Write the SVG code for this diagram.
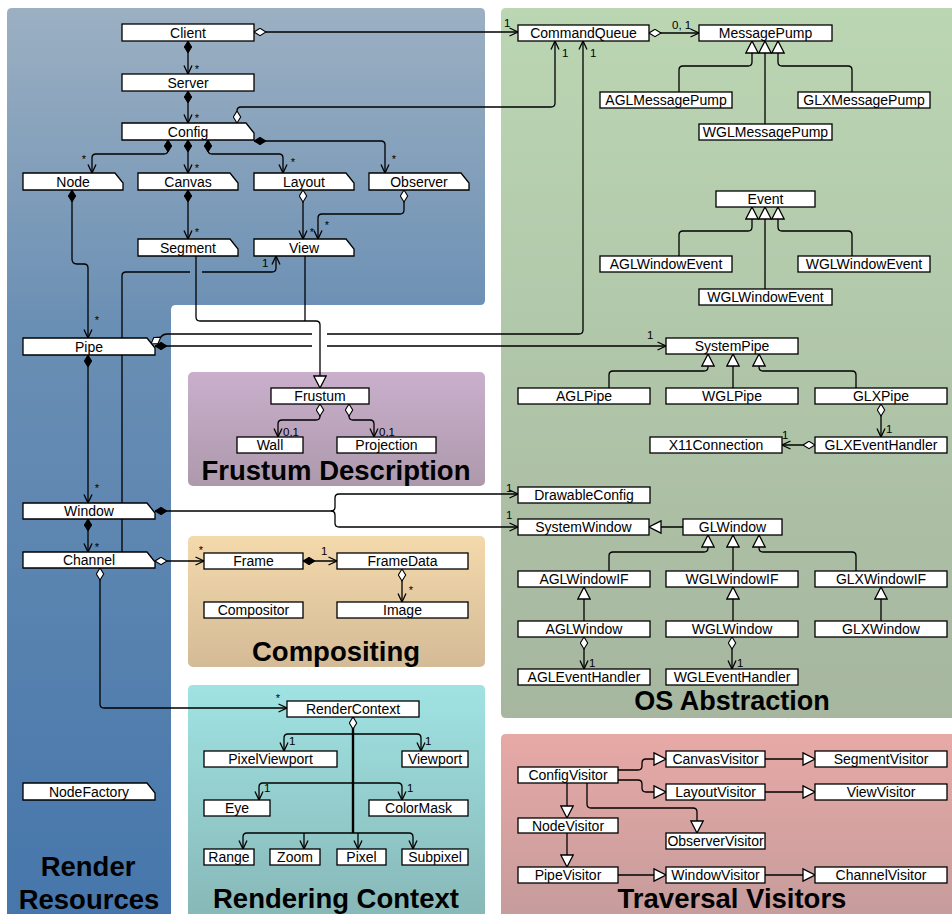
<svg xmlns="http://www.w3.org/2000/svg" width="952" height="914" viewBox="0 0 952 914">
<defs>
<linearGradient id="gBlue" gradientUnits="userSpaceOnUse" x1="0" y1="8" x2="0" y2="914"><stop offset="0" stop-color="#9cb0c2"/><stop offset="0.35" stop-color="#6a8fb4"/><stop offset="1" stop-color="#4676ab"/></linearGradient>
<linearGradient id="gGreen" gradientUnits="userSpaceOnUse" x1="0" y1="8" x2="0" y2="718"><stop offset="0" stop-color="#bbd6b3"/><stop offset="1" stop-color="#a6b69f"/></linearGradient>
<linearGradient id="gPurple" gradientUnits="userSpaceOnUse" x1="0" y1="372" x2="0" y2="486"><stop offset="0" stop-color="#c9afcc"/><stop offset="1" stop-color="#ad99ac"/></linearGradient>
<linearGradient id="gTan" gradientUnits="userSpaceOnUse" x1="0" y1="536" x2="0" y2="667"><stop offset="0" stop-color="#f4d9ab"/><stop offset="1" stop-color="#d4bb97"/></linearGradient>
<linearGradient id="gCyan" gradientUnits="userSpaceOnUse" x1="0" y1="685" x2="0" y2="914"><stop offset="0" stop-color="#a0e3e3"/><stop offset="1" stop-color="#88b8b8"/></linearGradient>
<linearGradient id="gPink" gradientUnits="userSpaceOnUse" x1="0" y1="734" x2="0" y2="914"><stop offset="0" stop-color="#e7a9a6"/><stop offset="1" stop-color="#c69c9c"/></linearGradient>
<marker id="arr" viewBox="0 0 10 10" refX="9.5" refY="5" markerWidth="10" markerHeight="10" markerUnits="userSpaceOnUse" orient="auto"><path d="M1,1 L9.5,5 L1,9" fill="none" stroke="#000" stroke-width="1.3"/></marker>
<marker id="fd" viewBox="0 0 13 9" refX="0.5" refY="4.5" markerWidth="13" markerHeight="9" markerUnits="userSpaceOnUse" orient="auto"><path d="M0.5,4.5 L6.5,0.8 L12.5,4.5 L6.5,8.2 Z" fill="#000" stroke="#000" stroke-width="1"/></marker>
<marker id="od" viewBox="0 0 13 9" refX="0.5" refY="4.5" markerWidth="13" markerHeight="9" markerUnits="userSpaceOnUse" orient="auto"><path d="M0.5,4.5 L6.5,0.8 L12.5,4.5 L6.5,8.2 Z" fill="#fff" stroke="#000" stroke-width="1.1"/></marker>
<marker id="tri" viewBox="0 0 14 14" refX="13" refY="7" markerWidth="14" markerHeight="14" markerUnits="userSpaceOnUse" orient="auto"><path d="M1,0.8 L13,7 L1,13.2 Z" fill="#fff" stroke="#000" stroke-width="1.3"/></marker>
<style>
.box{fill:#fff;stroke:#000;stroke-width:1.3}
.lbl{font-family:"Liberation Sans",Arial,sans-serif;font-size:14px;text-anchor:middle;fill:#000}
.c{fill:none;stroke:#000;stroke-width:1.3}
.cth{fill:none;stroke:#000;stroke-width:2.4}
.dF{marker-start:url(#fd)}
.dO{marker-start:url(#od)}
.aO{marker-end:url(#arr)}
.aT{marker-end:url(#tri)}
.m{font-family:"Liberation Sans",Arial,sans-serif;font-size:11.5px;fill:#000}
.s{font-family:"Liberation Sans",Arial,sans-serif;font-size:11px;fill:#000;text-anchor:middle}
.t{font-family:"Liberation Sans",Arial,sans-serif;font-weight:bold;font-size:27.5px;text-anchor:middle;fill:#000}
</style>
</defs>

<g id="panels">
<path d="M12,8 H480 Q485,8 485,13 V300 Q485,305 480,305 H176 Q171,305 171,310 V914 H7 V13 Q7,8 12,8 Z" fill="url(#gBlue)"/>
<path d="M506,8 H952 V718 H506 Q501,718 501,713 V13 Q501,8 506,8 Z" fill="url(#gGreen)"/>
<rect x="188" y="372" width="297" height="114" rx="5" fill="url(#gPurple)"/>
<rect x="188" y="536" width="297" height="131" rx="5" fill="url(#gTan)"/>
<path d="M193,685 H480 Q485,685 485,690 V914 H188 V690 Q188,685 193,685 Z" fill="url(#gCyan)"/>
<path d="M506,734 H952 V914 H501 V739 Q501,734 506,734 Z" fill="url(#gPink)"/>
<text class="t" x="88" y="876">Render</text>
<text class="t" x="89" y="909">Resources</text>
<text class="t" x="336" y="480">Frustum Description</text>
<text class="t" x="336" y="661">Compositing</text>
<text class="t" x="336" y="908">Rendering Context</text>
<text class="t" x="732" y="710" style="font-size:27px">OS Abstraction</text>
<text class="t" x="732" y="908">Traversal Visitors</text>
</g>

<g id="connectors">
<path class="c dF aO" d="M188,41 V74"/>
<path class="c dF aO" d="M188,91 V123"/>
<path class="c dF aO" d="M168,140 V150 Q168,154 164,154 H96 Q92,154 92,158 V173"/>
<path class="c dF aO" d="M188,140 V173"/>
<path class="c dF aO" d="M208,140 V150 Q208,154 212,154 H279 Q283,154 283,158 V173"/>
<path class="c dF aO" d="M254,141 H381 Q385,141 385,145 V173"/>
<path class="c dO aO" d="M237,123 V111 Q237,107 241,107 H551 Q555,107 555,103 V41"/>
<path class="c dO aO" d="M254,32 H518"/>
<path class="c dF aO" d="M72,190 V259 Q72,264 77,264 H84 Q88,264 88,268 V338"/>
<path class="c dF aO" d="M188,190 V239"/>
<path class="c dO aO" d="M303,190 V239"/>
<path class="c dO aO" d="M404,190 V210 Q404,214 400,214 H322 Q318,214 318,218 V239"/>
<path class="c" d="M305,256 V321"/>
<path class="c aT" d="M196,256 V317 Q196,321 200,321 H316 Q320,321 320,325 V388"/>
<path class="c aO" d="M122,552 V276 Q122,272 126,272 H190 M202,272 H272 Q276,272 276,268 V256"/>
<path class="c dO aO" d="M151,344 L161,337 Q163,334 167,334 H312 M327,334 H579 Q583,334 583,330 V41"/>
<path class="c dF aO" d="M155,346 H312 M327,346 H666"/>
<path class="c dF aO" d="M88,355 V503"/>
<path class="c dF aO" d="M88,519 V552"/>
<path class="c dF aO" d="M155,511 H331 Q335,511 335,507 V498 Q335,494 339,494 H518"/>
<path class="c aO" d="M331,511 Q335,511 335,515 V523 Q335,527 339,527 H518"/>
<path class="c dO aO" d="M155,561 H204"/>
<path class="c dO aO" d="M100,568 V704 Q100,708 104,708 H287"/>
<path class="c dO aO" d="M320,404 V416 Q320,420 316,420 H282 Q278,420 278,424 V437"/>
<path class="c dO aO" d="M349,404 V416 Q349,420 353,420 H370 Q374,420 374,424 V437"/>
<path class="c dF aO" d="M303,561 H337"/>
<path class="c dO aO" d="M402,569 V602"/>
<path class="cth dO" d="M353,717 V833"/>
<path class="c aO" d="M353,734 H288 Q284,734 284,738 V751"/>
<path class="c aO" d="M353,734 H417 Q421,734 421,738 V751"/>
<path class="c aO" d="M353,783 H263 Q259,783 259,787 V800"/>
<path class="c aO" d="M353,783 H398 Q402,783 402,787 V800"/>
<path class="c aO" d="M353,833 H247 Q243,833 243,837 V849"/>
<path class="c aO" d="M353,833 H409 Q413,833 413,837 V849"/>
<path class="c aO" d="M304,833 V849"/>
<path class="c aO" d="M358,833 V849"/>
<path class="c dO aO" d="M649,33 H699"/>
<path class="c aT" d="M679,92 V70 Q679,66 683,66 H748 Q752,66 752,62 V41"/>
<path class="c aT" d="M765,124 V41"/>
<path class="c aT" d="M852,92 V70 Q852,66 848,66 H782 Q778,66 778,62 V41"/>
<path class="c aT" d="M679,256 V235 Q679,231 683,231 H748 Q752,231 752,227 V207"/>
<path class="c aT" d="M765,289 V207"/>
<path class="c aT" d="M852,256 V235 Q852,231 848,231 H782 Q778,231 778,227 V207"/>
<path class="c aT" d="M609,388 V375 Q609,371 613,371 H704 Q708,371 708,367 V354"/>
<path class="c aT" d="M733,388 V354"/>
<path class="c aT" d="M856,388 V375 Q856,371 852,371 H763 Q759,371 759,367 V354"/>
<path class="c dO aO" d="M881,404 V437"/>
<path class="c dO aO" d="M815,445 H782"/>
<path class="c aT" d="M683,527 H649"/>
<path class="c aT" d="M609,571 V556 Q609,552 613,552 H704 Q708,552 708,548 V535"/>
<path class="c aT" d="M733,571 V535"/>
<path class="c aT" d="M856,571 V556 Q856,552 852,552 H763 Q759,552 759,548 V535"/>
<path class="c aT" d="M584,621 V587"/>
<path class="c aT" d="M733,621 V587"/>
<path class="c aT" d="M881,621 V587"/>
<path class="c dO aO" d="M584,637 V669"/>
<path class="c dO aO" d="M732,637 V669"/>
<path class="c aT" d="M618,770 H638 Q642,770 642,766 V763 Q642,759 646,759 H666"/>
<path class="c aT" d="M618,780 H638 Q642,780 642,784 V788 Q642,792 646,792 H666"/>
<path class="c aT" d="M765,759 H815"/>
<path class="c aT" d="M765,792 H815"/>
<path class="c aT" d="M567,783 V818"/>
<path class="c aT" d="M587,783 V804 Q587,808 591,808 H693 Q697,808 697,812 V833"/>
<path class="c aT" d="M567,833 V867"/>
<path class="c aT" d="M618,875 H666"/>
<path class="c aT" d="M765,875 H815"/>
</g>

<g id="multiplicities">
<text class="s" x="197" y="73">*</text>
<text class="s" x="197" y="122">*</text>
<text class="s" x="84" y="163">*</text>
<text class="s" x="197" y="172">*</text>
<text class="s" x="293" y="166">*</text>
<text class="s" x="394" y="163">*</text>
<text class="s" x="312" y="236">*</text>
<text class="s" x="327" y="229">*</text>
<text class="s" x="197" y="236">*</text>
<text class="m" x="262" y="267">1</text>
<text class="s" x="97" y="324">*</text>
<text class="s" x="97" y="492">*</text>
<text class="s" x="97" y="551">*</text>
<text class="s" x="201" y="554">*</text>
<text class="s" x="278" y="702">*</text>
<text class="m" x="321" y="555">1</text>
<text class="s" x="411" y="594">*</text>
<text class="m" x="283" y="436">0,1</text>
<text class="m" x="379" y="436">0,1</text>
<text class="m" x="289" y="745">1</text>
<text class="m" x="425" y="745">1</text>
<text class="m" x="264" y="792">1</text>
<text class="m" x="407" y="792">1</text>
<text class="m" x="504" y="27">1</text>
<text class="m" x="562" y="57">1</text>
<text class="m" x="590" y="57">1</text>
<text class="m" x="672" y="29">0, 1</text>
<text class="m" x="647" y="339">1</text>
<text class="m" x="886" y="433">1</text>
<text class="m" x="782" y="439">1</text>
<text class="m" x="506" y="492">1</text>
<text class="m" x="506" y="519">1</text>
<text class="m" x="589" y="667">1</text>
<text class="m" x="737" y="667">1</text>
</g>

<g id="n-client"><rect class="box" x="122" y="24" width="132" height="17"/><text class="lbl" x="188" y="37.5">Client</text></g>
<g id="n-server"><rect class="box" x="122" y="74" width="132" height="17"/><text class="lbl" x="188" y="87.5">Server</text></g>
<g id="n-config"><path class="box" d="M122,123 H246 L254,133 V140 H122 Z"/><text class="lbl" x="188" y="136.5">Config</text></g>
<g id="n-node"><path class="box" d="M23,173 H115 L123,183 V190 H23 Z"/><text class="lbl" x="73" y="186.5">Node</text></g>
<g id="n-canvas"><path class="box" d="M138,173 H230 L238,183 V190 H138 Z"/><text class="lbl" x="188" y="186.5">Canvas</text></g>
<g id="n-layout"><path class="box" d="M254,173 H346 L354,183 V190 H254 Z"/><text class="lbl" x="304" y="186.5">Layout</text></g>
<g id="n-observer"><path class="box" d="M369,173 H461 L469,183 V190 H369 Z"/><text class="lbl" x="419" y="186.5">Observer</text></g>
<g id="n-segment"><path class="box" d="M138,239 H230 L238,249 V256 H138 Z"/><text class="lbl" x="188" y="252.5">Segment</text></g>
<g id="n-view"><path class="box" d="M254,239 H346 L354,249 V256 H254 Z"/><text class="lbl" x="304" y="252.5">View</text></g>
<g id="n-pipe"><path class="box" d="M23,338 H147 L155,348 V355 H23 Z"/><text class="lbl" x="89" y="351.5">Pipe</text></g>
<g id="n-window"><path class="box" d="M23,503 H147 L155,513 V519 H23 Z"/><text class="lbl" x="89" y="516">Window</text></g>
<g id="n-channel"><path class="box" d="M23,552 H147 L155,562 V568 H23 Z"/><text class="lbl" x="89" y="565">Channel</text></g>
<g id="n-nodefactory"><path class="box" d="M23,783 H147 L155,793 V800 H23 Z"/><text class="lbl" x="89" y="796.5">NodeFactory</text></g>

<g id="n-frustum"><rect class="box" x="271" y="388" width="98" height="16"/><text class="lbl" x="320" y="401">Frustum</text></g>
<g id="n-wall"><rect class="box" x="237" y="437" width="66" height="16"/><text class="lbl" x="270" y="450">Wall</text></g>
<g id="n-projection"><rect class="box" x="337" y="437" width="99" height="16"/><text class="lbl" x="386.5" y="450">Projection</text></g>

<g id="n-frame"><rect class="box" x="204" y="553" width="99" height="16"/><text class="lbl" x="253.5" y="566">Frame</text></g>
<g id="n-framedata"><rect class="box" x="337" y="553" width="131" height="16"/><text class="lbl" x="402.5" y="566">FrameData</text></g>
<g id="n-compositor"><rect class="box" x="204" y="602" width="99" height="16"/><text class="lbl" x="253.5" y="615">Compositor</text></g>
<g id="n-image"><rect class="box" x="337" y="602" width="131" height="16"/><text class="lbl" x="402.5" y="615">Image</text></g>

<g id="n-rendercontext"><rect class="box" x="287" y="701" width="132" height="16"/><text class="lbl" x="353" y="714">RenderContext</text></g>
<g id="n-pixelviewport"><rect class="box" x="204" y="751" width="133" height="16"/><text class="lbl" x="270.5" y="764">PixelViewport</text></g>
<g id="n-viewport"><rect class="box" x="402" y="751" width="66" height="16"/><text class="lbl" x="435" y="764">Viewport</text></g>
<g id="n-eye"><rect class="box" x="204" y="800" width="66" height="16"/><text class="lbl" x="237" y="813">Eye</text></g>
<g id="n-colormask"><rect class="box" x="369" y="800" width="99" height="16"/><text class="lbl" x="418.5" y="813">ColorMask</text></g>
<g id="n-range"><rect class="box" x="204" y="849" width="50" height="16"/><text class="lbl" x="229" y="862">Range</text></g>
<g id="n-zoom"><rect class="box" x="270" y="849" width="50" height="16"/><text class="lbl" x="295" y="862">Zoom</text></g>
<g id="n-pixel"><rect class="box" x="337" y="849" width="49" height="16"/><text class="lbl" x="361.5" y="862">Pixel</text></g>
<g id="n-subpixel"><rect class="box" x="402" y="849" width="66" height="16"/><text class="lbl" x="435" y="862">Subpixel</text></g>

<g id="n-commandqueue"><rect class="box" x="518" y="25" width="131" height="16"/><text class="lbl" x="583.5" y="38">CommandQueue</text></g>
<g id="n-messagepump"><rect class="box" x="699" y="25" width="133" height="16"/><text class="lbl" x="765.5" y="38">MessagePump</text></g>
<g id="n-aglmessagepump"><rect class="box" x="600" y="92" width="132" height="16"/><text class="lbl" x="666" y="105">AGLMessagePump</text></g>
<g id="n-glxmessagepump"><rect class="box" x="798" y="92" width="132" height="16"/><text class="lbl" x="864" y="105">GLXMessagePump</text></g>
<g id="n-wglmessagepump"><rect class="box" x="699" y="124" width="133" height="16"/><text class="lbl" x="765.5" y="137">WGLMessagePump</text></g>
<g id="n-event"><rect class="box" x="716" y="191" width="99" height="16"/><text class="lbl" x="765.5" y="204">Event</text></g>
<g id="n-aglwindowevent"><rect class="box" x="600" y="256" width="132" height="16"/><text class="lbl" x="666" y="269">AGLWindowEvent</text></g>
<g id="n-wglwindowevent-r"><rect class="box" x="798" y="256" width="132" height="16"/><text class="lbl" x="864" y="269">WGLWindowEvent</text></g>
<g id="n-wglwindowevent-b"><rect class="box" x="699" y="289" width="133" height="16"/><text class="lbl" x="765.5" y="302">WGLWindowEvent</text></g>
<g id="n-systempipe"><rect class="box" x="666" y="338" width="132" height="16"/><text class="lbl" x="732" y="351">SystemPipe</text></g>
<g id="n-aglpipe"><rect class="box" x="518" y="388" width="132" height="16"/><text class="lbl" x="584" y="401">AGLPipe</text></g>
<g id="n-wglpipe"><rect class="box" x="666" y="388" width="132" height="16"/><text class="lbl" x="732" y="401">WGLPipe</text></g>
<g id="n-glxpipe"><rect class="box" x="815" y="388" width="132" height="16"/><text class="lbl" x="881" y="401">GLXPipe</text></g>
<g id="n-x11connection"><rect class="box" x="650" y="437" width="132" height="16"/><text class="lbl" x="716" y="450">X11Connection</text></g>
<g id="n-glxeventhandler"><rect class="box" x="815" y="437" width="132" height="16"/><text class="lbl" x="881" y="450">GLXEventHandler</text></g>
<g id="n-drawableconfig"><rect class="box" x="518" y="487" width="132" height="16"/><text class="lbl" x="584" y="500">DrawableConfig</text></g>
<g id="n-systemwindow"><rect class="box" x="518" y="519" width="131" height="16"/><text class="lbl" x="583.5" y="532">SystemWindow</text></g>
<g id="n-glwindow"><rect class="box" x="683" y="519" width="99" height="16"/><text class="lbl" x="732.5" y="532">GLWindow</text></g>
<g id="n-aglwindowif"><rect class="box" x="518" y="571" width="132" height="16"/><text class="lbl" x="584" y="584">AGLWindowIF</text></g>
<g id="n-wglwindowif"><rect class="box" x="666" y="571" width="132" height="16"/><text class="lbl" x="732" y="584">WGLWindowIF</text></g>
<g id="n-glxwindowif"><rect class="box" x="815" y="571" width="132" height="16"/><text class="lbl" x="881" y="584">GLXWindowIF</text></g>
<g id="n-aglwindow"><rect class="box" x="518" y="621" width="132" height="16"/><text class="lbl" x="584" y="634">AGLWindow</text></g>
<g id="n-wglwindow"><rect class="box" x="666" y="621" width="132" height="16"/><text class="lbl" x="732" y="634">WGLWindow</text></g>
<g id="n-glxwindow"><rect class="box" x="815" y="621" width="132" height="16"/><text class="lbl" x="881" y="634">GLXWindow</text></g>
<g id="n-agleventhandler"><rect class="box" x="518" y="669" width="132" height="16"/><text class="lbl" x="584" y="682">AGLEventHandler</text></g>
<g id="n-wgleventhandler"><rect class="box" x="666" y="669" width="132" height="16"/><text class="lbl" x="732" y="682">WGLEventHandler</text></g>

<g id="n-configvisitor"><rect class="box" x="518" y="767" width="100" height="16"/><text class="lbl" x="568" y="780">ConfigVisitor</text></g>
<g id="n-canvasvisitor"><rect class="box" x="666" y="751" width="99" height="16"/><text class="lbl" x="715.5" y="764">CanvasVisitor</text></g>
<g id="n-segmentvisitor"><rect class="box" x="815" y="751" width="132" height="16"/><text class="lbl" x="881" y="764">SegmentVisitor</text></g>
<g id="n-layoutvisitor"><rect class="box" x="666" y="784" width="99" height="16"/><text class="lbl" x="715.5" y="797">LayoutVisitor</text></g>
<g id="n-viewvisitor"><rect class="box" x="815" y="784" width="132" height="16"/><text class="lbl" x="881" y="797">ViewVisitor</text></g>
<g id="n-nodevisitor"><rect class="box" x="518" y="818" width="100" height="15"/><text class="lbl" x="568" y="830.5">NodeVisitor</text></g>
<g id="n-observervisitor"><rect class="box" x="666" y="833" width="99" height="16"/><text class="lbl" x="715.5" y="846">ObserverVisitor</text></g>
<g id="n-pipevisitor"><rect class="box" x="518" y="867" width="100" height="16"/><text class="lbl" x="568" y="880">PipeVisitor</text></g>
<g id="n-windowvisitor"><rect class="box" x="666" y="867" width="99" height="16"/><text class="lbl" x="715.5" y="880">WindowVisitor</text></g>
<g id="n-channelvisitor"><rect class="box" x="815" y="867" width="132" height="16"/><text class="lbl" x="881" y="880">ChannelVisitor</text></g>
</svg>
